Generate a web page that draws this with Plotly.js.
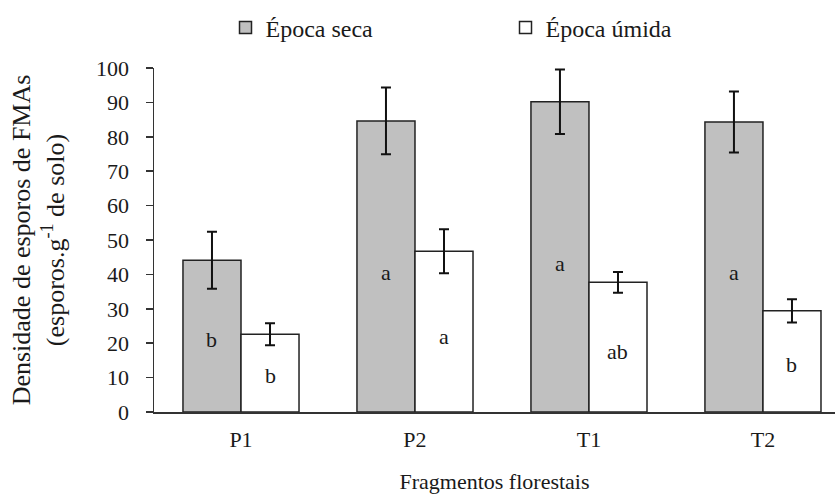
<!DOCTYPE html>
<html>
<head>
<meta charset="utf-8">
<script src="https://cdn.plot.ly/plotly-3.0.1.min.js"></script>
<style>html,body{margin:0;padding:0;background:#fff;}#chart{width:835px;height:498px;}</style>
</head>
<body>
<div id="chart"></div>
<script>
// Data
var categories = ["P1", "P2", "T1", "T2"];
var secaValues = [44.1, 84.6, 90.2, 84.3];
var secaErrors = [8.3, 9.7, 9.4, 8.9];
var umidaValues = [22.6, 46.7, 37.7, 29.4];
var umidaErrors = [3.2, 6.4, 3.0, 3.4];
var secaLetters = ["b", "a", "a", "a"];
var umidaLetters = ["b", "a", "ab", "b"];
var seriesNames = ["Época seca", "Época úmida"];
var yTickValues = [0, 10, 20, 30, 40, 50, 60, 70, 80, 90, 100];

var FONT = "'Liberation Serif', 'Times New Roman', serif";
var TXT = "#1a1a1a";

var traces = [
  {
    type: "bar", name: seriesNames[0], x: categories, y: secaValues,
    marker: {color: "#c0c0c0", line: {color: "#222", width: 1.5}},
    error_y: {type: "data", array: secaErrors, visible: true, color: "#111", thickness: 2, width: 5}
  },
  {
    type: "bar", name: seriesNames[1], x: categories, y: umidaValues,
    marker: {color: "#ffffff", line: {color: "#222", width: 1.5}},
    error_y: {type: "data", array: umidaErrors, visible: true, color: "#111", thickness: 2, width: 5}
  }
];

// letter annotations placed inside bars
var annotations = [];
categories.forEach(function (c, i) {
  annotations.push({x: i - 0.1667, y: secaValues[i] * 0.48, xref: "x", yref: "y", text: secaLetters[i],
    showarrow: false, font: {family: FONT, size: 22, color: TXT}});
  annotations.push({x: i + 0.1667, y: umidaValues[i] * 0.47, xref: "x", yref: "y", text: umidaLetters[i],
    showarrow: false, font: {family: FONT, size: 22, color: TXT}});
});

var layout = {
  width: 835, height: 498,
  margin: {l: 154, r: 0, t: 68, b: 86},
  paper_bgcolor: "#fff", plot_bgcolor: "#fff",
  font: {family: FONT, size: 22, color: TXT},
  barmode: "group", bargap: 0.333, bargroupgap: 0,
  showlegend: true,
  legend: {orientation: "h", x: 0.105, xanchor: "left", yref: "container", y: 0.944, yanchor: "middle",
    font: {family: FONT, size: 24, color: TXT}, entrywidth: 235, entrywidthmode: "pixels",
    bgcolor: "rgba(0,0,0,0)", traceorder: "normal"},
  xaxis: {
    type: "category", range: [-0.5, 3.414], showgrid: false, zeroline: false,
    showline: true, linecolor: "#333", linewidth: 1.5, ticks: "",
    tickfont: {family: FONT, size: 22, color: TXT}, ticklabelstandoff: 7,
    title: {text: "Fragmentos florestais", font: {family: FONT, size: 22, color: TXT}, standoff: 22}
  },
  yaxis: {
    range: [0, 100], tickvals: yTickValues, showgrid: false, zeroline: false,
    showline: true, linecolor: "#333", linewidth: 1.5, ticks: "outside", ticklen: 7, tickwidth: 1.5, tickcolor: "#333",
    tickfont: {family: FONT, size: 22, color: TXT}, ticklabelstandoff: 12,
    title: {text: "Densidade de esporos de FMAs<br>(esporos.g<sup>-1</sup> de solo)", font: {family: FONT, size: 26, color: TXT}, standoff: 24}
  },
  annotations: annotations
};

Plotly.newPlot("chart", traces, layout, {displayModeBar: false, staticPlot: true});
</script>
</body>
</html>
